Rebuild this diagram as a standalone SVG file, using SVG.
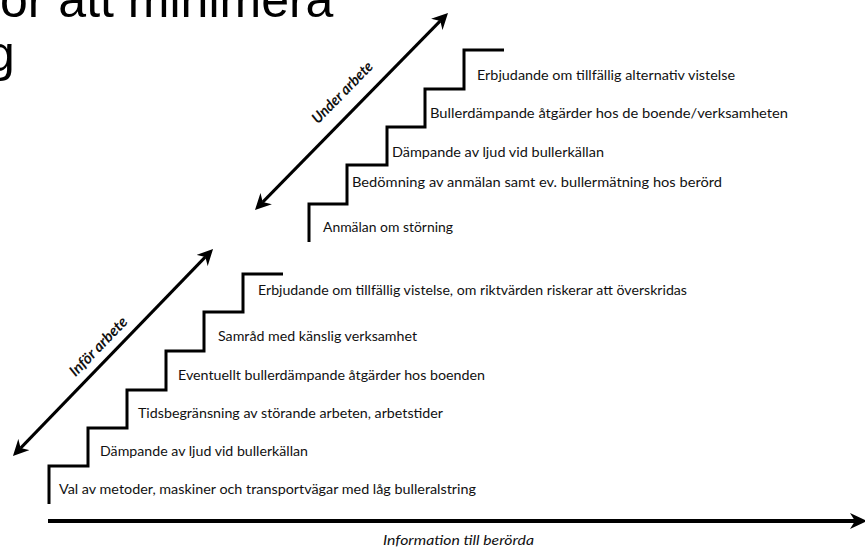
<svg xmlns="http://www.w3.org/2000/svg" width="865" height="549" viewBox="0 0 865 549">
<style>
.title{font-family:"Liberation Sans",Arial,sans-serif;font-size:50px;fill:#000}
.lbl{font-family:Lato,"Open Sans",sans-serif;font-size:14px;fill:#111}
.it{font-family:Lato,"Open Sans",sans-serif;font-size:14px;font-style:italic;fill:#111}
.itb{font-family:Lato,"Open Sans",sans-serif;font-size:15px;font-style:italic;font-weight:bold;fill:#111}
.stair{fill:none;stroke:#000;stroke-width:3;stroke-linejoin:miter;stroke-linecap:butt}
.arr{fill:none;stroke:#000;stroke-width:3}
</style>
<defs>
<marker id="ah" markerUnits="userSpaceOnUse" markerWidth="17" markerHeight="16" refX="5" refY="8" orient="auto-start-reverse" viewBox="0 0 17 16">
<path d="M0,0 L16,8 L0,16 L5,8 z" fill="#000"/>
</marker>
<marker id="ah2" markerUnits="userSpaceOnUse" markerWidth="18" markerHeight="16" refX="5" refY="8" orient="auto" viewBox="0 0 18 16">
<path d="M0,0 L17,8 L0,16 L5,8 z" fill="#000"/>
</marker>
</defs>

<g id="title">
<text class="title" x="0" y="17">or att minimera</text>
<text class="title" x="-13" y="71">g</text>
</g>

<g id="connectors">
<line id="arrow-under" class="arr" x1="262.7" y1="202.1" x2="440.3" y2="20.9" marker-start="url(#ah)" marker-end="url(#ah)"/>
<line id="arrow-infor" class="arr" x1="20.6" y1="448.1" x2="205.4" y2="256.9" marker-start="url(#ah)" marker-end="url(#ah)"/>
<line id="axis" x1="48" y1="521" x2="855" y2="521" stroke="#000" stroke-width="4" marker-end="url(#ah2)"/>
</g>

<g id="stairs-under">
<path class="stair" d="M309,242 V204 H347 V165 H387 V127 H425 V89 H464 V50 H504"/>
</g>
<g id="stairs-infor">
<path class="stair" d="M49,504 V466 H88 V428 H127 V390 H166 V351 H204 V312 H243 V274 H283"/>
</g>

<g id="label-under">
<text class="itb" transform="translate(346,96) rotate(-45.6)" text-anchor="middle" textLength="80" lengthAdjust="spacingAndGlyphs">Under arbete</text>
</g>
<g id="label-infor">
<text class="itb" transform="translate(102,350) rotate(-46)" text-anchor="middle" textLength="76" lengthAdjust="spacingAndGlyphs">Inför arbete</text>
</g>

<g id="under-steps">
<text class="lbl" x="477" y="80" textLength="258" lengthAdjust="spacingAndGlyphs">Erbjudande om tillfällig alternativ vistelse</text>
<text class="lbl" x="430" y="118" textLength="358" lengthAdjust="spacingAndGlyphs">Bullerdämpande åtgärder hos de boende/verksamheten</text>
<text class="lbl" x="392" y="157" textLength="212" lengthAdjust="spacingAndGlyphs">Dämpande av ljud vid bullerkällan</text>
<text class="lbl" x="352" y="187" textLength="370" lengthAdjust="spacingAndGlyphs">Bedömning av anmälan samt ev. bullermätning hos berörd</text>
<text class="lbl" x="323" y="232" textLength="130" lengthAdjust="spacingAndGlyphs">Anmälan om störning</text>
</g>

<g id="infor-steps">
<text class="lbl" x="258" y="295" textLength="429" lengthAdjust="spacingAndGlyphs">Erbjudande om tillfällig vistelse, om riktvärden riskerar att överskridas</text>
<text class="lbl" x="218" y="341" textLength="199" lengthAdjust="spacingAndGlyphs">Samråd med känslig verksamhet</text>
<text class="lbl" x="178" y="380" textLength="307" lengthAdjust="spacingAndGlyphs">Eventuellt bullerdämpande åtgärder hos boenden</text>
<text class="lbl" x="138" y="418" textLength="305" lengthAdjust="spacingAndGlyphs">Tidsbegränsning av störande arbeten, arbetstider</text>
<text class="lbl" x="100" y="456" textLength="208" lengthAdjust="spacingAndGlyphs">Dämpande av ljud vid bullerkällan</text>
<text class="lbl" x="59" y="494" textLength="417" lengthAdjust="spacingAndGlyphs">Val av metoder, maskiner och transportvägar med låg bulleralstring</text>
</g>

<g id="axis-label">
<text class="it" x="383" y="545" textLength="151" lengthAdjust="spacingAndGlyphs">Information till berörda</text>
</g>
</svg>
